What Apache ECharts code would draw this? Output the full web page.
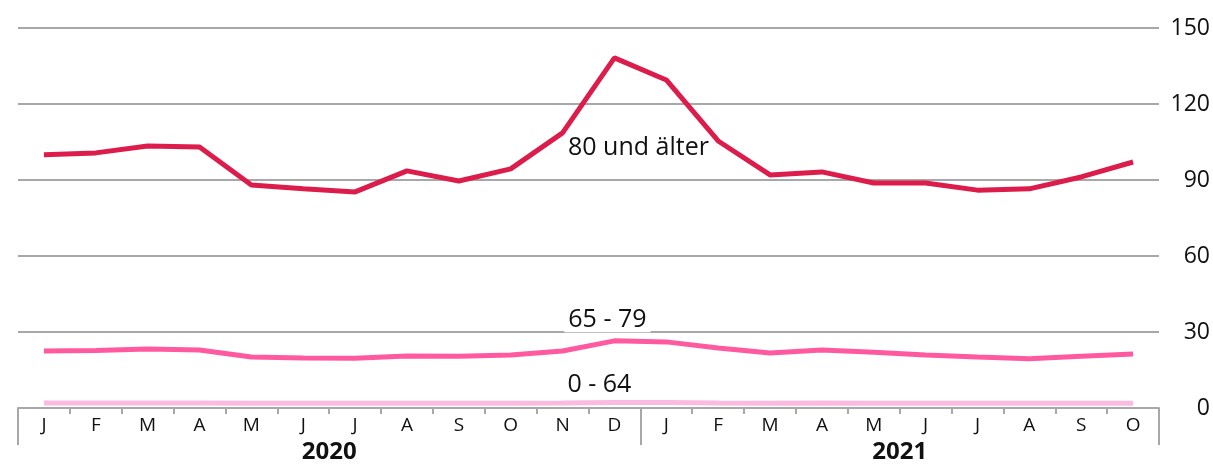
<!DOCTYPE html>
<html>
<head>
<meta charset="utf-8">
<script src="https://cdn.jsdelivr.net/npm/echarts@6/dist/echarts.min.js"></script>
<style>
  html, body { margin: 0; padding: 0; background: #fff; }
  #chart { width: 1213px; height: 465px; }
</style>
</head>
<body>
<div id="chart"></div>
<script>
// Monthly values by age group, Jan 2020 – Oct 2021
const months = ['J','F','M','A','M','J','J','A','S','O','N','D',
                'J','F','M','A','M','J','J','A','S','O'];
const years = ['2020', '2021'];
const monthsPerYear = [12, 10];

const seriesNames = ['80 und älter', '65 - 79', '0 - 64'];
const values80plus = [100, 100.7, 103.4, 103, 88, 86.5, 85.3, 93.6, 89.6, 94.4, 108.6, 138.2,
                      129.5, 105.4, 92, 93.2, 88.8, 88.8, 86, 86.5, 91.2, 97.1];
const values65to79 = [22.5, 22.7, 23.3, 22.9, 20.1, 19.7, 19.6, 20.5, 20.4, 20.9, 22.5, 26.5,
                      26.1, 23.7, 21.7, 22.9, 22.0, 20.9, 20.1, 19.4, 20.4, 21.3];
const values0to64 = [2.0, 2.0, 2.0, 2.0, 1.9, 1.9, 1.9, 1.9, 1.9, 1.9, 2.0, 2.2,
                     2.2, 2.0, 1.9, 2.0, 1.9, 1.9, 1.9, 1.9, 1.9, 1.9];

const yTicks = { min: 0, max: 150, interval: 30 };

const FONT = 'Open Sans';
const colors = ['#dc1d4b', '#ff5aa0', '#fbbbe0'];

// year boundaries and year-label centres on a 0..N value scale
const boundaries = [0];
const yearCentres = [];
monthsPerYear.forEach(n => {
  const start = boundaries[boundaries.length - 1];
  yearCentres.push(start + n / 2);
  boundaries.push(start + n);
});

const seriesValues = [values80plus, values65to79, values0to64];

// each series is named beside its December 2020 point
const labelIndex = 11;
const labelOffsets = [[24, 90], [-7, -21], [-15, -18]];

const chart = echarts.init(document.getElementById('chart'), null, { renderer: 'canvas' });

chart.setOption({
  animation: false,
  grid: { left: 18, right: 53, top: 28, bottom: 57, containLabel: false },
  xAxis: [
    {
      type: 'category',
      data: months,
      boundaryGap: true,
      axisLine: { show: true, lineStyle: { color: '#a8a8a8', width: 2 } },
      axisTick: { show: true, interval: 0, length: 6, lineStyle: { color: '#a8a8a8', width: 2 } },
      axisLabel: { interval: 0, color: '#111', fontFamily: FONT, fontSize: 19, margin: 8 },
      splitLine: { show: false }
    },
    {
      type: 'value',
      min: 0,
      max: months.length,
      position: 'bottom',
      axisLine: { show: false },
      axisTick: {
        show: true, length: 37, customValues: boundaries,
        lineStyle: { color: '#a8a8a8', width: 2 }
      },
      axisLabel: {
        show: true,
        customValues: yearCentres,
        formatter: v => years[yearCentres.indexOf(v)] || '',
        color: '#111', fontFamily: FONT, fontSize: 24, fontWeight: 'bold',
        margin: 32
      },
      splitLine: { show: false }
    }
  ],
  yAxis: {
    type: 'value',
    position: 'right',
    min: yTicks.min,
    max: yTicks.max,
    interval: yTicks.interval,
    axisLine: { show: false },
    axisTick: { show: false },
    axisLabel: { color: '#111', fontFamily: FONT, fontSize: 23, align: 'right', margin: 51 },
    splitLine: { show: true, lineStyle: { color: '#a8a8a8', width: 2 } }
  },
  series: seriesValues.map((values, k) => ({
    type: 'line',
    name: seriesNames[k],
    data: values,
    xAxisIndex: 0,
    symbol: 'none',
    smooth: false,
    z: 5 - k,
    lineStyle: { color: colors[k], width: 5 },
    itemStyle: { color: colors[k] },
    emphasis: { disabled: true }
  }))
});

// series names placed relative to their December 2020 point;
// drawn above the gridlines but beneath the lines
const nameTexts = seriesValues.map((values, k) => {
  const p = chart.convertToPixel({ xAxisIndex: 0, yAxisIndex: 0 }, [labelIndex, values[labelIndex]]);
  return {
    type: 'text',
    x: p[0] + labelOffsets[k][0],
    y: p[1] + labelOffsets[k][1],
    z: 1,
    silent: true,
    style: {
      text: seriesNames[k],
      fill: '#111',
      font: '25px "' + FONT + '"',
      align: 'center',
      verticalAlign: 'middle',
      backgroundColor: '#fff',
      padding: [0, 4]
    }
  };
});
chart.setOption({ graphic: nameTexts });
</script>
</body>
</html>
